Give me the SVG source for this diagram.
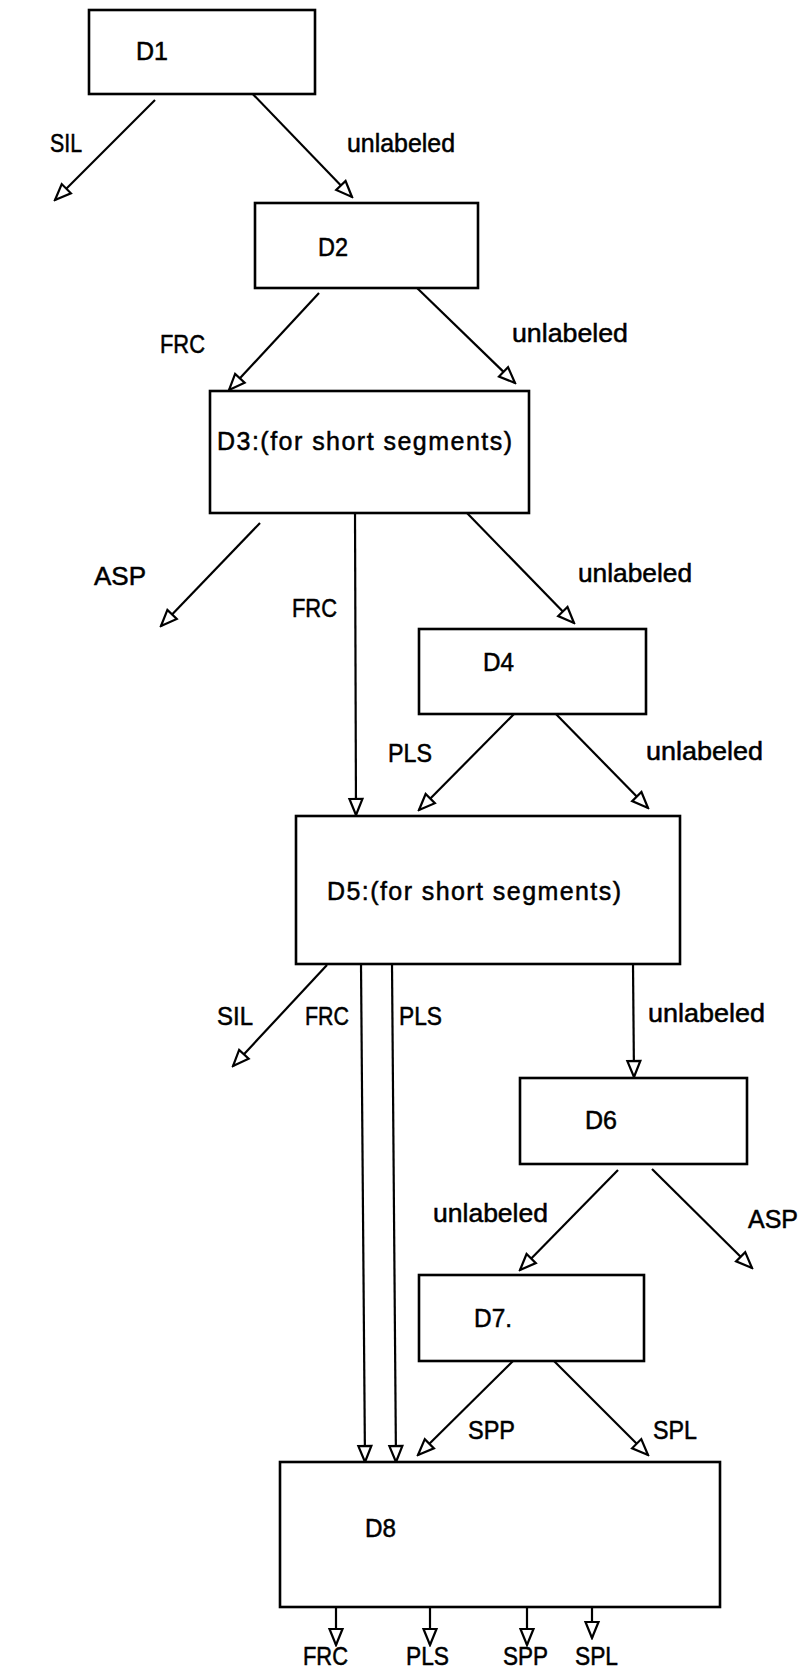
<svg xmlns="http://www.w3.org/2000/svg" width="801" height="1669" viewBox="0 0 801 1669">
<style>
  .box { fill: #fff; stroke: #000; stroke-width: 2.6; }
  .edge { stroke: #000; stroke-width: 2.2; fill: none; marker-end: url(#arr); }
  text { font-family: "Liberation Sans", Arial, sans-serif; font-size: 25px; fill: #000; stroke: #000; stroke-width: 0.5; }
</style>
<defs>
  <marker id="arr" viewBox="-19 -9 21 18" markerWidth="21" markerHeight="18" refX="0" refY="0" orient="auto" markerUnits="userSpaceOnUse">
    <path d="M0,0 L-16,-6.5 L-16,6.5 Z" fill="#fff" stroke="#000" stroke-width="2.2" stroke-linejoin="miter"/>
  </marker>
</defs>
<rect width="801" height="1669" fill="#fff"/>

<g id="connectors">
  <line class="edge" x1="155" y1="100" x2="55" y2="200"/>
  <line class="edge" x1="247" y1="88" x2="352" y2="197"/>
  <line class="edge" x1="319" y1="293" x2="229" y2="390"/>
  <line class="edge" x1="415" y1="286" x2="515" y2="383"/>
  <line class="edge" x1="260" y1="523" x2="161" y2="626"/>
  <line class="edge" x1="355" y1="512" x2="356" y2="815"/>
  <line class="edge" x1="467" y1="513" x2="574" y2="623"/>
  <line class="edge" x1="515" y1="713" x2="419" y2="810"/>
  <line class="edge" x1="552" y1="710" x2="648" y2="808"/>
  <line class="edge" x1="327" y1="965" x2="233" y2="1066"/>
  <line class="edge" x1="361" y1="964" x2="365" y2="1462"/>
  <line class="edge" x1="392" y1="964" x2="396" y2="1462"/>
  <line class="edge" x1="633" y1="964" x2="634" y2="1077"/>
  <line class="edge" x1="618" y1="1170" x2="520" y2="1270"/>
  <line class="edge" x1="652" y1="1169" x2="752" y2="1268"/>
  <line class="edge" x1="515" y1="1359" x2="418" y2="1455"/>
  <line class="edge" x1="550" y1="1357" x2="648" y2="1455"/>
  <line class="edge" x1="336" y1="1607" x2="336" y2="1645"/>
  <line class="edge" x1="430" y1="1607" x2="430" y2="1645"/>
  <line class="edge" x1="527" y1="1607" x2="527" y2="1645"/>
  <line class="edge" x1="592" y1="1607" x2="592" y2="1638"/>
  <g id="edge-labels">
    <text x="50" y="152" textLength="32" lengthAdjust="spacingAndGlyphs">SIL</text>
    <text x="347" y="152" textLength="108" lengthAdjust="spacingAndGlyphs">unlabeled</text>
    <text x="160" y="353" textLength="45" lengthAdjust="spacingAndGlyphs">FRC</text>
    <text x="512" y="342" textLength="116" lengthAdjust="spacingAndGlyphs">unlabeled</text>
    <text x="94" y="585" textLength="52" lengthAdjust="spacingAndGlyphs">ASP</text>
    <text x="292" y="617" textLength="45" lengthAdjust="spacingAndGlyphs">FRC</text>
    <text x="578" y="582" textLength="114" lengthAdjust="spacingAndGlyphs">unlabeled</text>
    <text x="388" y="762" textLength="44" lengthAdjust="spacingAndGlyphs">PLS</text>
    <text x="646" y="760" textLength="117" lengthAdjust="spacingAndGlyphs">unlabeled</text>
    <text x="217" y="1025" textLength="36" lengthAdjust="spacingAndGlyphs">SIL</text>
    <text x="305" y="1025" textLength="44" lengthAdjust="spacingAndGlyphs">FRC</text>
    <text x="399" y="1025" textLength="43" lengthAdjust="spacingAndGlyphs">PLS</text>
    <text x="648" y="1022" textLength="117" lengthAdjust="spacingAndGlyphs">unlabeled</text>
    <text x="433" y="1222" textLength="115" lengthAdjust="spacingAndGlyphs">unlabeled</text>
    <text x="748" y="1228" textLength="50" lengthAdjust="spacingAndGlyphs">ASP</text>
    <text x="468" y="1439" textLength="47" lengthAdjust="spacingAndGlyphs">SPP</text>
    <text x="653" y="1439" textLength="44" lengthAdjust="spacingAndGlyphs">SPL</text>
    <text x="303" y="1665" textLength="45" lengthAdjust="spacingAndGlyphs">FRC</text>
    <text x="406" y="1665" textLength="43" lengthAdjust="spacingAndGlyphs">PLS</text>
    <text x="503" y="1665" textLength="45" lengthAdjust="spacingAndGlyphs">SPP</text>
    <text x="575" y="1665" textLength="43" lengthAdjust="spacingAndGlyphs">SPL</text>
  </g>
</g>

<g id="D1">
  <rect class="box" x="89" y="10" width="226" height="84"/>
  <text x="136" y="60">D1</text>
</g>
<g id="D2">
  <rect class="box" x="255" y="203" width="223" height="85"/>
  <text x="318" y="256" textLength="30" lengthAdjust="spacingAndGlyphs">D2</text>
</g>
<g id="D3">
  <rect class="box" x="210" y="391" width="319" height="122"/>
  <text x="217" y="450" textLength="295" lengthAdjust="spacing">D3:(for short segments)</text>
</g>
<g id="D4">
  <rect class="box" x="419" y="629" width="227" height="85"/>
  <text x="483" y="671" textLength="31" lengthAdjust="spacingAndGlyphs">D4</text>
</g>
<g id="D5">
  <rect class="box" x="296" y="816" width="384" height="148"/>
  <text x="327" y="900" textLength="294" lengthAdjust="spacing">D5:(for short segments)</text>
</g>
<g id="D6">
  <rect class="box" x="520" y="1078" width="227" height="86"/>
  <text x="585" y="1129" textLength="32" lengthAdjust="spacingAndGlyphs">D6</text>
</g>
<g id="D7">
  <rect class="box" x="419" y="1275" width="225" height="86"/>
  <text x="474" y="1327" textLength="38" lengthAdjust="spacingAndGlyphs">D7.</text>
</g>
<g id="D8">
  <rect class="box" x="280" y="1462" width="440" height="145"/>
  <text x="365" y="1537" textLength="31" lengthAdjust="spacingAndGlyphs">D8</text>
</g>
</svg>
